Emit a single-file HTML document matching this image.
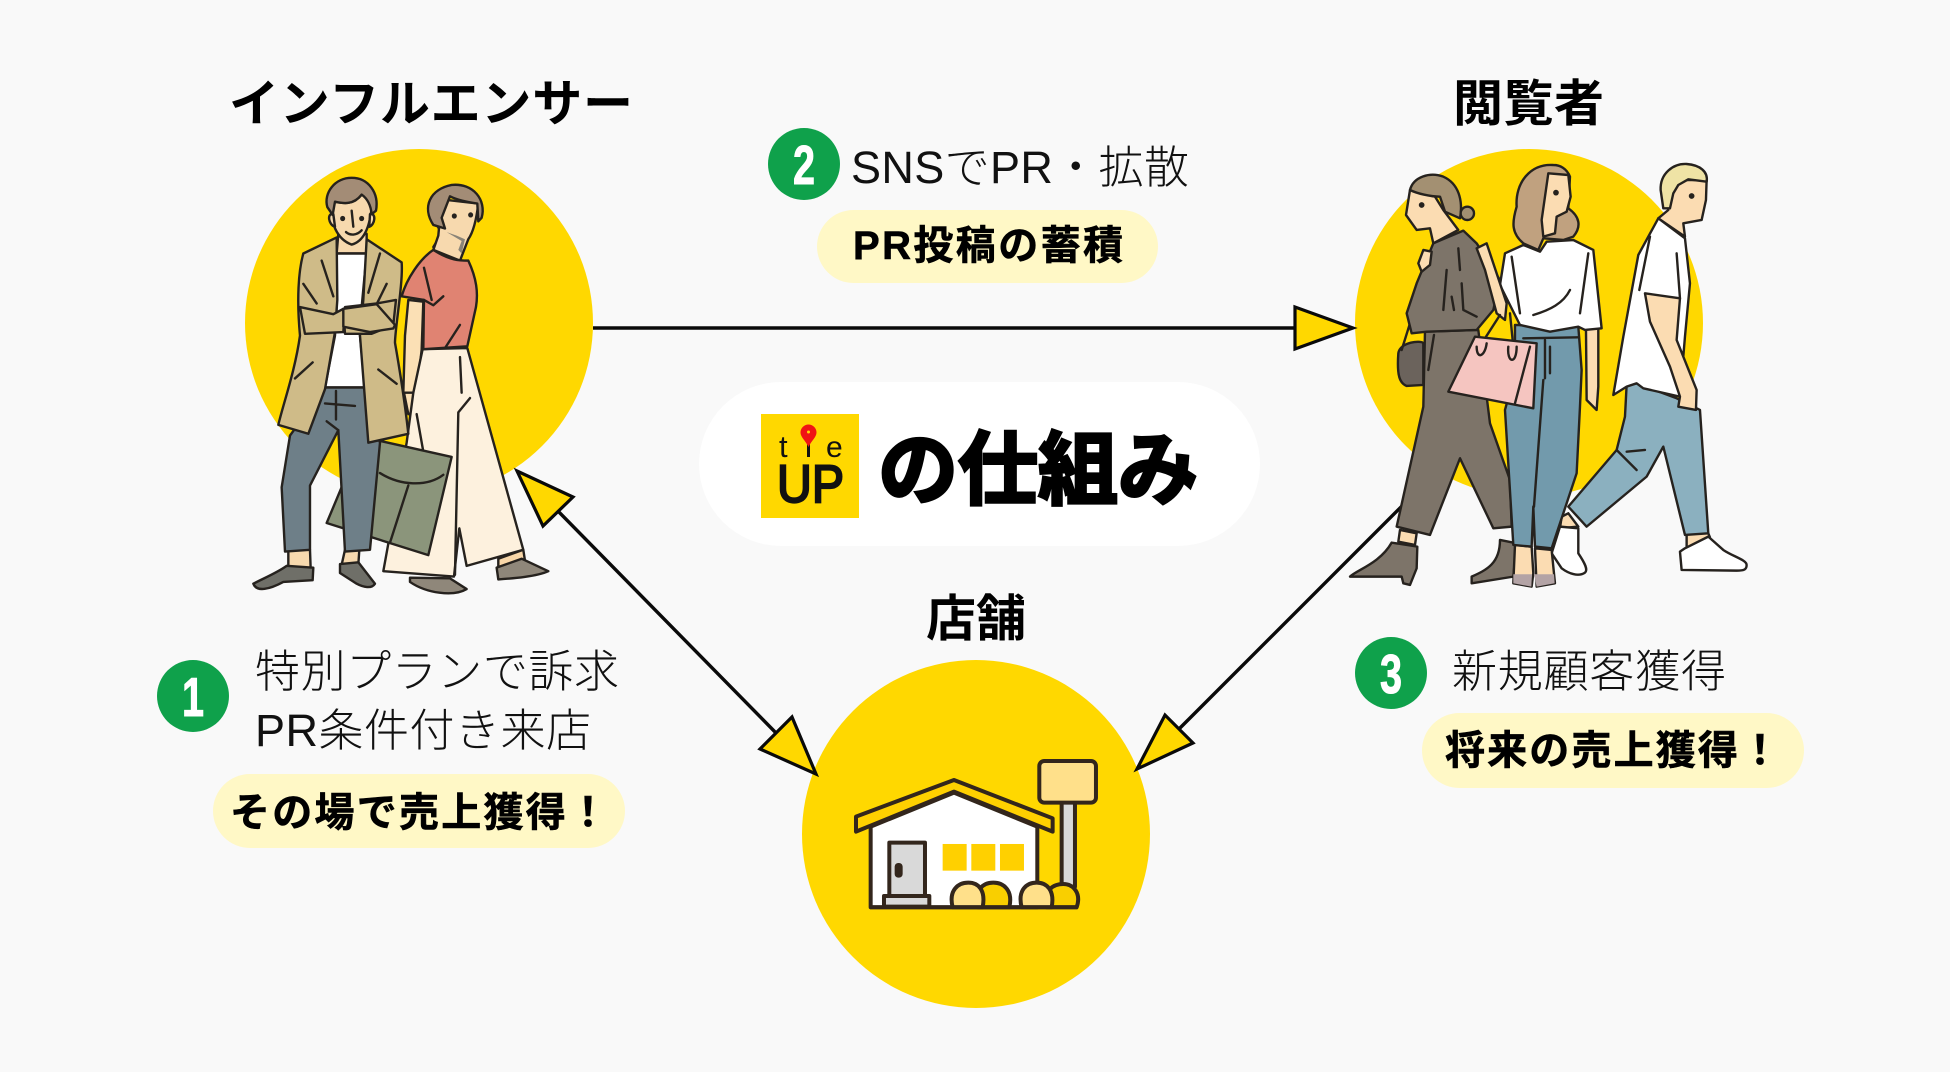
<!DOCTYPE html>
<html lang="ja"><head><meta charset="utf-8"><title>tieUPの仕組み</title>
<style>
html,body{margin:0;padding:0;background:#f9f9f9;width:1950px;height:1072px;overflow:hidden}
svg{display:block}
text{font-family:"Liberation Sans","Noto Sans CJK JP",sans-serif;fill:#111}
.l{font-size:45px;font-weight:300;fill:#111}
.b{font-size:40px;font-weight:700;fill:#000;stroke:#000;stroke-width:.6px}
.t{font-size:50px;font-weight:700;fill:#000}
.n{font-size:55px;font-weight:700;fill:#fff;stroke:#fff;stroke-width:1px}
.o path,.o circle,.o rect,.o polygon{stroke:#26221e;stroke-width:2.4;vector-effect:non-scaling-stroke;stroke-linejoin:round;stroke-linecap:round}
.o .f{stroke:none}
.s path,.s rect,.s circle{stroke:#33261c;stroke-width:4;stroke-linejoin:round;vector-effect:non-scaling-stroke}
.s .f{stroke:none}
</style></head><body>
<svg xmlns="http://www.w3.org/2000/svg" width="1950" height="1072" viewBox="0 0 1950 1072">
<rect width="1950" height="1072" fill="#f9f9f9"/>
<circle cx="419" cy="323" r="174" fill="#ffd800"/>
<circle cx="1529" cy="323" r="174" fill="#ffd800"/>
<circle cx="976" cy="834" r="174" fill="#ffd800"/>

<!-- connectors -->
<g stroke="#0a0a0a" stroke-width="3.4" fill="none">
<line x1="593" y1="328" x2="1296" y2="328"/>
<line x1="556" y1="509" x2="778" y2="735"/>
<line x1="1405" y1="503" x2="1178" y2="730"/>
</g>
<g stroke="#0a0a0a" stroke-width="3.2" fill="#ffd800" stroke-linejoin="miter">
<polygon points="1353,328 1295,307 1295,349"/>
<polygon points="517,471 573,497 543,526"/>
<polygon points="816,774 760,749 792,717"/>
<polygon points="1137,769 1165,715 1193,743"/>
</g>

<!-- white label -->
<rect x="699" y="382" width="561" height="164" rx="82" fill="#fff"/>
<rect x="761" y="414" width="98" height="104" fill="#ffd800"/>
<text x="779" y="457" style="font-size:31px;fill:#111">t</text>
<line x1="808.500" y1="442" x2="808.500" y2="457" stroke="#111" stroke-width="3"/>
<path d="M808.500 447 C805 440 800.500 437 800.500 432.500 A8 8 0 0 1 816.500 432.500 C816.500 437 812 440 808.500 447Z" fill="#f01414"/>
<circle cx="808.500" cy="432" r="1.500" fill="#ffd800"/>
<text x="826" y="457" style="font-size:30px;fill:#111">e</text>
<text x="777" y="502" textLength="67" lengthAdjust="spacingAndGlyphs" style="font-size:53px;font-weight:400;fill:#111;stroke:#111;stroke-width:2.200px">UP</text>
<text x="878" y="498" textLength="320" style="font-size:80px;font-weight:700;fill:#000;stroke:#000;stroke-width:3px;font-family:'Noto Sans CJK JP',sans-serif">の仕組み</text>

<!-- titles -->
<text class="t" x="229" y="121" textLength="404">インフルエンサー</text>
<text class="t" x="1453" y="121" textLength="151">閲覧者</text>
<text class="t" x="926" y="636" textLength="100">店舗</text>

<!-- step 1 -->
<circle cx="193" cy="696" r="36" fill="#0fa14b"/>
<text class="n" transform="translate(193 716) scale(.72 1)" text-anchor="middle">1</text>
<text class="l" x="255" y="687" textLength="364">特別プランで訴求</text>
<text class="l" x="255" y="746" textLength="336">PR条件付き来店</text>
<rect x="213" y="774" width="412" height="74" rx="37" fill="#fff8c6"/>
<text class="b" x="230" y="826" textLength="378">その場で売上獲得！</text>

<!-- step 2 -->
<circle cx="804" cy="164" r="36" fill="#0fa14b"/>
<text class="n" transform="translate(804 184) scale(.72 1)" text-anchor="middle">2</text>
<text class="l" x="851" y="183" textLength="338">SNSでPR・拡散</text>
<rect x="817" y="210" width="341" height="73" rx="36.500" fill="#fff8c6"/>
<text class="b" x="853" y="259" textLength="270">PR投稿の蓄積</text>

<!-- step 3 -->
<circle cx="1391" cy="673" r="36" fill="#0fa14b"/>
<text class="n" transform="translate(1391 693) scale(.72 1)" text-anchor="middle">3</text>
<text class="l" x="1452" y="687" textLength="274">新規顧客獲得</text>
<rect x="1422" y="713" width="382" height="75" rx="37.500" fill="#fff8c6"/>
<text class="b" x="1445" y="764" textLength="335">将来の売上獲得！</text>

<!-- influencers -->
<g class="o" transform="translate(220 50) scale(.3333 .357)">
<!-- woman -->
<path fill="#a38c76" d="M640,470 L665,515 L640,552 L700,565 L725,510Z"/>
<path fill="#f7d9ae" d="M655,520 L640,560 L720,590 L745,530 C760,510 770,470 775,430 L680,420 L660,470Z"/>
<path fill="#a38c76" d="M640,490 C605,440 630,390 695,378 C760,372 800,420 785,470 L775,480 L772,430 C740,425 710,420 690,410 L665,470 L675,500Z"/>
<path class="f" fill="#8a8478" d="M680,510 L710,520 L735,530 L725,570 L715,560 L725,535Z"/>
<circle cx="703" cy="465" r="4" fill="#26221e"/><circle cx="752" cy="462" r="4" fill="#26221e"/>
<path fill="#fbe0b5" d="M565,700 L610,705 L605,840 L590,960 L550,960 L555,800Z"/>
<path fill="#fbe0b5" d="M552,960 L595,960 L590,1015 L565,1020Z"/>
<path fill="#fdf1de" d="M608,838 L742,835 L910,1400 L740,1445 L718,1340 L702,1475 L490,1460 L560,1100 L580,960Z"/>
<path fill="none" d="M720,860 L725,960 M750,975 L715,1015 L705,1470"/>
<path fill="#e08372" d="M640,560 C690,590 720,590 745,590 C770,640 775,680 768,720 L742,830 L610,838 L612,700 L545,690 C560,640 600,585 640,560Z"/>
<path fill="none" d="M612,610 L635,700 M670,690 L640,715 L612,700 M720,770 L675,835"/>
<path fill="#f9d7a8" d="M835,1425 L910,1400 L915,1430 L835,1455Z"/>
<path fill="#8f877a" d="M570,1478 L690,1480 L740,1510 C700,1532 620,1522 570,1490Z"/>
<path fill="#8f877a" d="M830,1450 L905,1425 L985,1460 C950,1475 880,1480 835,1483Z"/>
<!-- bag -->
<path fill="none" d="M590,1020 L610,1125"/>
<path fill="#8b957b" d="M480,1095 L695,1140 L625,1415 L320,1325 L385,1180Z"/>
<path fill="none" d="M480,1185 C540,1220 620,1225 670,1190 M565,1220 L510,1380"/>
<!-- man -->
<path fill="#f7d9ae" d="M205,1400 L270,1400 L272,1452 L205,1452Z"/>
<path fill="#f7d9ae" d="M375,1400 L418,1400 L415,1442 L365,1442Z"/>
<path fill="#6f6f68" d="M100,1495 C130,1480 170,1465 200,1445 L280,1450 L278,1485 L190,1490 C150,1510 110,1520 100,1495Z"/>
<path fill="#6f6f68" d="M360,1440 L415,1435 L465,1495 C455,1510 430,1505 410,1495 L360,1465Z"/>
<path fill="#6e7f88" d="M315,945 L435,945 L480,1100 L450,1400 L375,1405 L355,1065 L270,1220 L270,1400 L195,1405 L185,1225 L210,1080Z"/>
<path fill="none" d="M348,955 L348,1035 M315,990 L405,997 M320,1040 L355,1065"/>
<path fill="#f7d9ae" d="M355,515 L350,570 L440,570 L440,515Z"/>
<path fill="#fff" d="M350,570 L440,570 L425,720 L420,800 L435,945 L315,945 L345,800 L350,720Z"/>
<path fill="#cfbb88" d="M350,525 L250,570 C235,620 230,700 240,800 C225,900 190,990 175,1050 L265,1075 L315,950 L345,790 L352,700Z"/>
<path fill="#cfbb88" d="M440,530 L545,595 C550,650 525,780 525,820 C540,900 555,990 565,1075 L445,1100 L420,800 L430,700Z"/>
<path fill="#cfbb88" d="M240,720 L340,740 L370,725 L375,795 L420,795 L455,795 L520,770 L528,700 L470,710 L375,720 L370,790 L255,795Z"/>
<path fill="#cfbb88" d="M370,725 L470,712 L525,770 L520,780 L450,790 L370,775Z"/>
<path fill="none" d="M250,655 L290,710 M500,655 L470,712 M305,590 L340,690 M480,570 L445,680 M225,920 L278,875 M475,895 L530,935"/>
<path fill="#f7d9ae" d="M335,440 C330,480 350,530 395,545 C435,535 450,490 455,440 C440,415 430,405 425,405 C400,435 370,430 345,425Z"/>
<path fill="#f7d9ae" d="M340,460 C320,455 325,490 345,495Z M450,460 C470,455 465,490 448,495Z"/>
<path fill="#a38c76" d="M322,440 C310,400 345,358 395,358 C445,358 478,400 468,450 L455,460 C452,430 440,415 425,405 C400,435 370,430 345,425 L338,462Z"/>
<path fill="none" d="M395,450 L400,495 M378,510 C390,520 410,520 425,505"/>
<circle cx="368" cy="472" r="4" fill="#26221e"/><circle cx="425" cy="472" r="4" fill="#26221e"/>
</g>

<!-- viewers -->
<g class="o" transform="translate(1330 140) scale(.3333)">
<!-- right man -->
<path fill="#fbdcb2" d="M1070,1180 L1135,1180 L1140,1192 L1070,1228Z"/>
<path fill="#fbdcb2" d="M695,1130 L715,1120 L745,1160 L690,1165Z"/>
<path fill="#fff" d="M1065,1225 L1135,1190 L1180,1230 C1210,1250 1250,1260 1250,1275 C1250,1290 1240,1292 1220,1292 L1055,1290 L1050,1235Z"/>
<path fill="#fff" d="M690,1160 L745,1165 L745,1240 C765,1270 775,1290 765,1298 C745,1312 715,1300 695,1285 L665,1240Z"/>
<path fill="#8bb0bf" d="M890,735 L920,730 L1040,775 L1110,810 L1135,1180 L1065,1185 L1000,920 L950,1010 L770,1160 L715,1100 L860,930 L885,830Z"/>
<path fill="none" d="M860,930 L920,990 M890,935 L945,930"/>
<path fill="#fbdcb2" d="M1030,120 L1130,120 L1128,180 L1115,240 L1060,250 L1065,290 L985,235 L1015,210 L1005,170Z"/>
<path fill="#efe3a5" d="M992,150 C990,100 1030,70 1070,72 C1110,75 1135,95 1130,125 L1075,118 L1045,135 L1030,160 L1020,205 L1000,205Z"/>
<circle cx="1085" cy="168" r="5" fill="#26221e"/>
<path fill="#fff" d="M985,235 L1065,295 L1080,430 L1065,590 L1050,770 L940,745 L920,730 L890,740 L850,765 L880,590 L925,345Z"/>
<path fill="#fbdcb2" d="M945,460 L1050,475 L1040,600 L1100,750 L1098,810 L1045,800 L1050,770 L1020,680 L960,545Z"/>
<path fill="none" d="M960,290 L928,450 M1040,340 L1050,475"/>
<!-- left woman legs -->
<path fill="#fbdcb2" d="M210,1170 L260,1180 L255,1215 L205,1205Z"/>
<path fill="#7d7469" d="M185,1208 L262,1220 L260,1285 L240,1335 L220,1330 L215,1310 L60,1310 C80,1290 150,1270 185,1208Z"/>
<path fill="#7d7469" d="M510,1200 L560,1210 L550,1310 L425,1330 L425,1310 C470,1290 510,1270 510,1200Z"/>
<path fill="#6b635c" d="M205,640 C210,605 275,600 280,610 L280,735 L230,738 C210,730 200,710 205,640Z"/>
<path fill="none" d="M215,630 L240,550"/>
<path fill="#7d7469" d="M285,575 L445,570 L480,850 L540,1020 L545,1160 L490,1165 L390,955 L300,1185 L200,1160 L280,800Z"/>
<path fill="none" d="M312,585 L295,690"/>
<!-- middle woman -->
<path fill="#c0a17f" d="M670,75 C600,70 555,130 560,200 C545,250 545,280 580,310 L625,330 L640,295 L700,300 L730,290 C755,260 750,230 715,205 L720,110 C710,85 690,75 670,75Z"/>
<path fill="#fbdcb2" d="M655,100 L715,105 L722,170 L710,215 L680,230 L675,280 L640,290 L635,240Z"/>
<circle cx="678" cy="158" r="5" fill="#26221e"/>
<path fill="#fbdcb2" d="M555,1215 L605,1220 L610,1300 L605,1340 L550,1330Z"/>
<path fill="#fbdcb2" d="M615,1225 L665,1230 L675,1330 L620,1340Z"/>
<path class="f" fill="#b3a3a5" d="M550,1303 L606,1303 L604,1340 L550,1330Z M612,1303 L672,1303 L674,1330 L620,1340Z"/>
<path fill="#729aac" d="M555,555 L745,560 L755,690 L750,800 L740,1000 L665,1225 L615,1220 L610,1100 L605,1220 L550,1215 L525,810 L555,700Z"/>
<path fill="none" d="M580,595 L745,592 M645,600 L645,715 M660,620 L660,700 M640,720 L612,1100"/>
<path fill="#fbdcb2" d="M768,565 L805,565 L805,740 L800,810 L770,780Z"/>
<path fill="#fff" d="M525,340 L580,315 L630,335 L650,305 L730,300 L790,330 L815,565 L765,570 L745,560 L660,575 L570,555 L510,435Z"/>
<path fill="none" d="M545,350 L570,520 M775,340 L750,520 M610,525 C660,510 700,490 720,450"/>
<!-- left woman top -->
<path fill="#7d7469" d="M310,310 L400,272 L440,310 L510,420 L490,510 L440,570 L290,575 L245,580 L230,520 L260,430Z"/>
<path fill="none" d="M385,325 L390,390 M350,390 L340,510 M395,430 L400,510 L440,530 M365,470 L372,510"/>
<path fill="#fbdcb2" d="M240,150 L228,225 L260,270 L300,265 L310,310 L385,270 L340,210 L315,170Z"/>
<path fill="#a39072" d="M240,150 C250,110 300,95 340,110 C385,130 400,180 390,235 L345,215 L330,170 C300,170 260,160 240,150Z"/>
<circle cx="412" cy="220" r="20" fill="#a39072"/>
<circle cx="275" cy="195" r="5" fill="#26221e"/>
<path fill="#fbdcb2" d="M265,370 L280,330 L305,335 L300,375 L275,395Z"/>
<path fill="#fbdcb2" d="M440,325 L470,310 L485,355 L530,490 L525,540 L500,520 L465,390Z"/>
<!-- pink bag -->
<path fill="none" stroke="#f5c5c0" d="M465,595 L510,525 M548,600 L540,520"/>
<path fill="#f5c5c0" d="M435,590 L620,610 L610,805 L355,755Z"/>
<path fill="none" d="M600,620 L555,790 M440,620 C440,660 465,650 470,610 M535,620 C530,670 560,675 560,620"/>
</g>

<!-- store -->
<g class="s" transform="translate(780 650) scale(.3333)">
<rect x="845" y="455" width="40" height="255" fill="#d9d9d9"/>
<rect x="778" y="333" width="170" height="125" rx="15" fill="#ffe08a"/>
<path fill="#fff" d="M272,530 L522,428 L772,530 L772,772 L272,772Z"/>
<path fill="#ffd000" d="M228,500 L522,390 L818,505 L818,545 L522,425 L228,545Z"/>
<rect x="328" y="578" width="107" height="162" fill="#d9d9d9"/>
<rect x="350" y="645" width="12" height="32" rx="5" fill="#33261c"/>
<rect x="312" y="738" width="136" height="32" fill="#d9d9d9"/>
<rect class="f" x="488" y="582" width="72" height="80" fill="#ffd000"/>
<rect class="f" x="574" y="582" width="72" height="80" fill="#ffd000"/>
<rect class="f" x="660" y="582" width="72" height="80" fill="#ffd000"/>
<path fill="#f9cf00" d="M595,772 C580,720 610,698 640,698 C670,698 700,720 688,772Z"/>
<path fill="#ffe08a" d="M518,772 C505,720 535,698 565,698 C595,698 618,720 608,772Z"/>
<path fill="#f9cf00" d="M800,772 C790,720 820,702 850,702 C880,702 905,730 890,772Z"/>
<path fill="#ffe08a" d="M725,772 C712,720 740,698 770,698 C800,698 825,720 815,772Z"/>
<path fill="none" d="M270,772 L893,772"/>
</g>
</svg>
</body></html>
